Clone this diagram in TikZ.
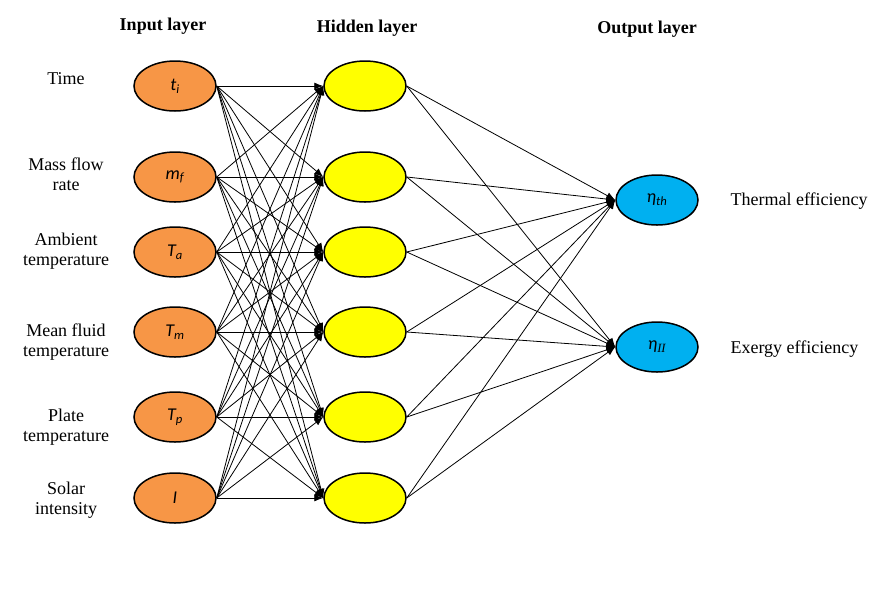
\documentclass[tikz,border=0pt]{standalone}
\usepackage{fontspec}
\setmainfont{Liberation Serif}
\newfontfamily\carlitofont{Carlito}
\usetikzlibrary{shapes.geometric,arrows.meta}
\definecolor{inorange}{HTML}{F79646}
\definecolor{hidyellow}{HTML}{FFFF00}
\definecolor{outblue}{HTML}{00B0F0}
\tikzset{
  neuron/.style={ellipse,draw=black,line width=1.5pt,minimum width=82pt,minimum height=50pt,inner sep=0pt,font=\carlitofont\itshape\fontsize{18}{20}\selectfont},
  innode/.style={neuron,fill=inorange},
  hidnode/.style={neuron,fill=hidyellow},
  outnode/.style={neuron,fill=outblue},
  lbl/.style={align=center,font=\fontsize{18}{20}\selectfont},
  head/.style={font=\bfseries\fontsize{18}{20}\selectfont},
  conn/.style={line width=0.8pt,-{Latex[length=9pt,width=7pt]}}
}
\begin{document}
\begin{tikzpicture}[x=1pt,y=-1pt]
\useasboundingbox[fill=white] (0,0) rectangle (882,614);
\node[head] (hin) at (163,26) {Input layer};
\node[head] (hhid) at (367,28) {Hidden layer};
\node[head] (hout) at (647,29) {Output layer};
% input nodes
\node[innode] (i1) at (175,86) {t\textsubscript{i}};
\node[innode] (i2) at (175,177) {m\textsubscript{f}};
\node[innode] (i3) at (175,252) {T\textsubscript{a}};
\node[innode] (i4) at (175,332) {T\textsubscript{m}};
\node[innode] (i5) at (175,417) {T\textsubscript{p}};
\node[innode] (i6) at (175,498) {I};
% hidden
\foreach \k/\y in {1/86,2/177,3/252,4/332,5/417,6/498}{
  \node[hidnode] (h\k) at (365,\y) {};
}
% output
\node[outnode] (o1) at (657,200) {η\textsubscript{th}};
\node[outnode] (o2) at (657,347) {η\textsubscript{\rmfamily\itshape II}};
% labels
\node[lbl] (l1) at (66,79) {Time};
\node[lbl] (l2) at (66,174) {Mass flow\\rate};
\node[lbl] (l3) at (66,251) {Ambient\\temperature};
\node[lbl] (l4) at (66,342) {Mean fluid\\temperature};
\node[lbl] (l5) at (66,427) {Plate\\temperature};
\node[lbl] (l6) at (66,500) {Solar\\intensity};
\node[lbl,anchor=west] (r1) at (727,201) {Thermal efficiency};
\node[lbl,anchor=west] (r2) at (727,349) {Exergy efficiency};
% connections
\foreach \a in {1,...,6}{
  \foreach \b in {1,...,6}{
    \draw[conn] (i\a.east) -- (h\b.west);
  }
  \foreach \c in {1,2}{
    \draw[conn] (h\a.east) -- (o\c.west);
  }
}
\end{tikzpicture}
\end{document}
